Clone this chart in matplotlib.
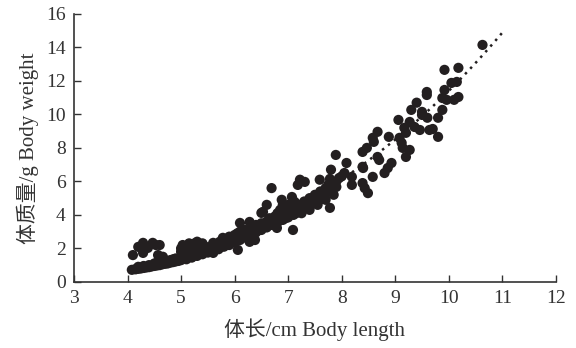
import matplotlib

matplotlib.use("Agg")
import matplotlib.pyplot as plt
import numpy as np

# body length (cm) and body weight (g)
length_cm = [
    # lower band 4-5 cm
    4.08, 4.15, 4.20, 4.25, 4.30, 4.35, 4.40, 4.45, 4.50, 4.55, 4.60, 4.65,
    4.70, 4.75, 4.80, 4.85, 4.90, 4.95, 5.00, 4.50, 4.60, 4.70, 4.80, 4.90,
    4.55, 4.40, 4.65, 4.30, 4.20, 4.75, 4.85,
    # upper cluster 4-4.7 cm
    4.10, 4.20, 4.29, 4.29, 4.38, 4.47, 4.60, 4.57, 4.66, 4.53,
    # 5-6 cm
    5.00, 5.00, 5.00, 5.03, 5.05, 5.08, 5.10, 5.10, 5.12, 5.15, 5.15, 5.20,
    5.20, 5.22, 5.25, 5.25, 5.30, 5.30, 5.32, 5.35, 5.38, 5.40, 5.40, 5.45,
    5.45, 5.50, 5.50, 5.55, 5.60, 5.60, 5.65, 5.70, 5.72, 5.78, 5.75, 5.80,
    5.85, 5.90, 5.90, 5.95, 6.00, 6.00, 6.06, 6.05,
    # 6-7 cm
    6.10, 6.10, 6.15, 6.20, 6.20, 6.28, 6.28, 6.34, 6.30, 6.38, 6.35, 6.40,
    6.45, 6.50, 6.50, 6.53, 6.55, 6.60, 6.60, 6.65, 6.69, 6.70, 6.75, 6.79,
    6.80, 6.80, 6.85, 6.88, 6.90, 6.90, 6.95, 6.95, 7.00, 7.00, 7.03,
    # dense band 5-7 cm
    5.10, 5.20, 5.30, 5.40, 5.50, 5.60, 5.70, 5.80, 5.90, 6.00, 6.10, 6.20,
    6.30, 6.40, 6.50, 6.60, 6.70, 6.80, 6.90, 7.00,
    # 7-8 cm
    7.07, 7.09, 7.10, 7.12, 7.15, 7.18, 7.20, 7.22, 7.25, 7.31, 7.30, 7.35,
    7.40, 7.40, 7.45, 7.50, 7.50, 7.55, 7.59, 7.59, 7.60, 7.65, 7.70, 7.70,
    7.75, 7.78, 7.78, 7.80, 7.80, 7.85, 7.89, 7.90, 7.90, 7.95, 7.10, 7.25,
    7.40, 7.55, 7.70,
    # 8-9 cm
    8.00, 8.05, 8.09, 8.19, 8.19, 8.39, 8.39, 8.43, 8.49, 8.39, 8.47, 8.40,
    8.58, 8.60, 8.58, 8.67, 8.67, 8.70, 8.80, 8.86, 8.93, 8.88,
    # 9-10.7 cm
    9.06, 9.08, 9.12, 9.14, 9.20, 9.17, 9.20, 9.27, 9.27, 9.36, 9.46, 9.64,
    9.70, 9.30, 9.40, 9.50, 9.50, 9.60, 9.80, 9.80, 9.88, 9.59, 9.59, 9.88,
    9.96, 10.10, 10.18, 9.92, 10.05, 10.15, 9.92, 10.18, 10.63,
]
weight_g = [
    0.72, 0.75, 0.78, 0.80, 0.83, 0.86, 0.88, 0.92, 0.95, 0.98, 1.00, 1.05,
    1.08, 1.10, 1.15, 1.18, 1.22, 1.25, 1.30, 1.10, 1.20, 1.25, 1.30, 1.40,
    1.15, 1.00, 1.30, 0.95, 0.90, 1.25, 1.35,
    1.60, 2.09, 2.33, 1.73, 2.03, 2.33, 2.20, 1.60, 1.50, 2.20,
    1.50, 1.80, 2.00, 2.20, 1.60, 1.40, 1.90, 2.10, 1.70, 2.30, 1.50, 2.00,
    1.80, 1.60, 2.30, 2.10, 1.90, 2.40, 1.70, 2.20, 2.00, 2.30, 1.80, 2.10,
    1.90, 2.00, 1.80, 2.10, 1.73, 2.33, 2.00, 2.20, 2.39, 2.63, 2.10, 2.30,
    2.50, 2.40, 2.70, 2.60, 2.80, 2.50, 1.91, 2.90,
    3.00, 3.52, 2.70, 3.10, 2.90, 2.39, 3.58, 3.28, 3.00, 2.50, 3.20, 3.40,
    3.10, 4.12, 3.50, 4.18, 3.30, 4.60, 3.60, 3.80, 5.60, 3.50, 3.90, 3.22,
    4.10, 3.70, 4.30, 4.90, 4.60, 4.00, 4.40, 3.80, 4.20, 4.60, 4.00,
    1.35, 1.45, 1.55, 1.65, 1.75, 1.85, 1.95, 2.10, 2.20, 2.35, 2.50, 2.65,
    2.80, 2.95, 3.10, 3.25, 3.40, 3.55, 3.70, 3.85,
    5.07, 3.10, 4.40, 4.78, 4.10, 5.79, 4.60, 6.10, 4.30, 5.97, 4.80, 4.50,
    5.00, 4.60, 4.90, 5.20, 4.70, 5.00, 6.10, 4.90, 5.40, 5.10, 5.60, 5.30,
    5.80, 6.15, 4.42, 6.70, 5.50, 5.20, 7.58, 5.67, 6.00, 6.20, 4.00, 4.10,
    4.30, 4.60, 4.90,
    6.30, 6.50, 7.10, 6.27, 5.79, 6.87, 5.90, 5.60, 5.30, 7.76, 8.00, 6.80,
    8.60, 8.36, 6.27, 8.96, 7.46, 7.28, 6.50, 6.80, 7.10, 8.66,
    9.67, 8.60, 8.30, 8.00, 8.90, 9.20, 7.46, 7.88, 9.55, 9.25, 9.07, 9.07,
    9.13, 10.27, 10.70, 10.15, 9.97, 9.80, 9.80, 8.66, 10.27, 11.34, 11.16, 10.98,
    10.87, 10.87, 11.04, 11.46, 11.88, 11.94, 12.66, 12.78, 14.15,
]

# fitted power curve W = a * L^b
fit_a = 0.0185
fit_b = 2.79
fit_range = (4.1, 11.0)

x_ticks = list(range(3, 13))
y_ticks = list(range(0, 17, 2))

fonts = ["Liberation Serif", "Noto Sans CJK SC"]
plt.rcParams["font.family"] = fonts

fig = plt.figure(figsize=(5.76, 3.48), dpi=100)
ax = fig.add_axes([0.1285, 0.19, 0.8365, 0.77])

ink = "#231f20"
ax.scatter(length_cm, weight_g, s=54, color=ink, edgecolors="none", zorder=3)

fit_x = np.linspace(fit_range[0], fit_range[1], 200)
ax.plot(fit_x, fit_a * fit_x ** fit_b, color=ink, linewidth=1.8,
        linestyle=(0, (1, 2)), zorder=2)

ax.set_xlim(3, 12)
ax.set_ylim(0, 16)
ax.set_xticks(x_ticks)
ax.set_yticks(y_ticks)
ax.spines["top"].set_visible(False)
ax.spines["right"].set_visible(False)
for side in ("left", "bottom"):
    ax.spines[side].set_linewidth(1.2)
    ax.spines[side].set_color("#333333")
ax.tick_params(direction="in", length=5, width=1.0, labelsize=14,
               colors="#333333", pad=6)

ax.set_xlabel("体长/cm Body length", fontsize=15, color="#333333", labelpad=8)
ax.set_ylabel("体质量/g Body weight", fontsize=15, color="#333333", labelpad=5)

fig.savefig("out.png", dpi=100)
